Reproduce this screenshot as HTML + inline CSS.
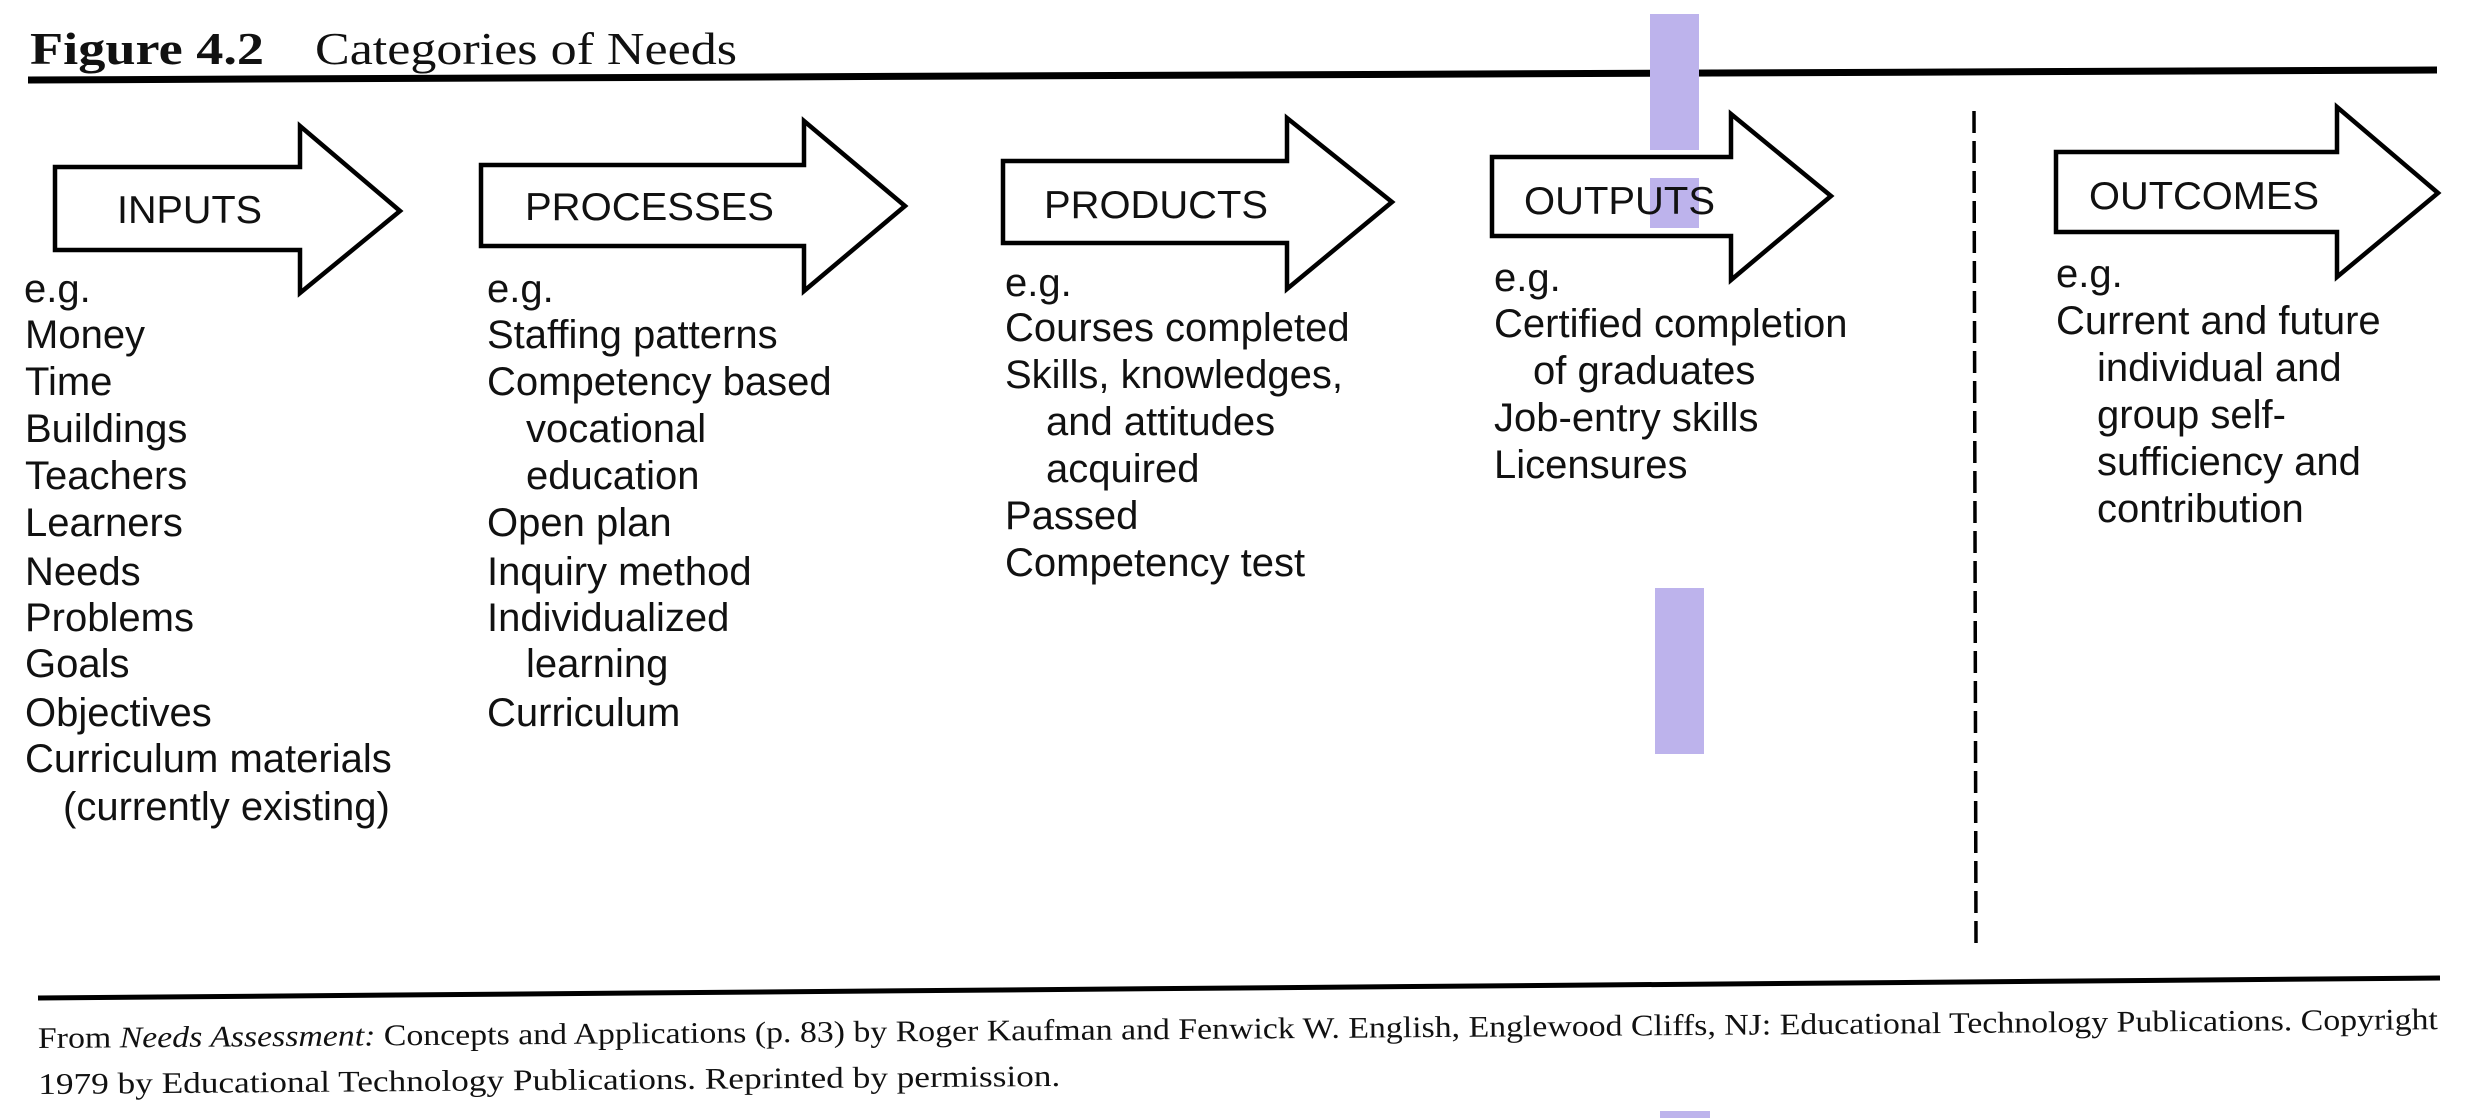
<!DOCTYPE html>
<html><head><meta charset="utf-8"><style>
html,body{margin:0;padding:0;background:#fff;}
svg{display:block;}
.s{font-family:"Liberation Sans",Arial,sans-serif;font-size:40px;fill:#111;}
.l{font-family:"Liberation Sans",Arial,sans-serif;font-size:39px;fill:#111;}
.f{font-family:"Liberation Serif","Times New Roman",serif;fill:#111;}
</style></head><body>
<svg width="2472" height="1118" viewBox="0 0 2472 1118" xmlns="http://www.w3.org/2000/svg">
<rect width="2472" height="1118" fill="#fff"/>
<text class="f" x="30" y="64" font-size="46" font-weight="bold" textLength="234" lengthAdjust="spacingAndGlyphs">Figure 4.2</text>
<text class="f" x="315" y="64" font-size="46" textLength="422" lengthAdjust="spacingAndGlyphs">Categories of Needs</text>
<line x1="28" y1="80" x2="2437" y2="70" stroke="#000" stroke-width="7"/>

<rect x="1650" y="14" width="49" height="136" fill="#bdb3ec"/>
<rect x="1650" y="178" width="49" height="50" fill="#bdb3ec"/>
<rect x="1655" y="588" width="49" height="166" fill="#bdb3ec"/>
<rect x="1660" y="1111" width="50" height="7" fill="#bdb3ec"/>

<g fill="none" stroke="#000" stroke-width="4.5" stroke-linejoin="miter">
<polygon points="55,167 300,167 300,126 400,211 300,293 300,250 55,250"/>
<polygon points="481,165 804,165 804,121 905,206 804,291 804,246 481,246"/>
<polygon points="1003,161 1287,161 1287,118 1392,202 1287,289 1287,243 1003,243"/>
<polygon points="1492,157 1731,157 1731,114 1831,196 1731,280 1731,236 1492,236"/>
<polygon points="2056,152 2337,152 2337,107 2438,193 2337,277 2337,232 2056,232"/>
</g>
<text class="l" x="117" y="223" textLength="145" lengthAdjust="spacingAndGlyphs">INPUTS</text>
<text class="l" x="525" y="220" textLength="249" lengthAdjust="spacingAndGlyphs">PROCESSES</text>
<text class="l" x="1044" y="218" textLength="224" lengthAdjust="spacingAndGlyphs">PRODUCTS</text>
<text class="l" x="1524" y="214" textLength="191" lengthAdjust="spacingAndGlyphs">OUTPUTS</text>
<text class="l" x="2089" y="209" textLength="230" lengthAdjust="spacingAndGlyphs">OUTCOMES</text>

<g class="s">
<text x="24" y="302">e.g.</text>
<text x="25" y="348">Money</text>
<text x="25" y="395">Time</text>
<text x="25" y="442">Buildings</text>
<text x="25" y="489">Teachers</text>
<text x="25" y="536">Learners</text>
<text x="25" y="585">Needs</text>
<text x="25" y="631">Problems</text>
<text x="25" y="677">Goals</text>
<text x="25" y="726">Objectives</text>
<text x="25" y="772">Curriculum materials</text>
<text x="63" y="820">(currently existing)</text>

<text x="487" y="302">e.g.</text>
<text x="487" y="348">Staffing patterns</text>
<text x="487" y="395">Competency based</text>
<text x="526" y="442">vocational</text>
<text x="526" y="489">education</text>
<text x="487" y="536">Open plan</text>
<text x="487" y="585">Inquiry method</text>
<text x="487" y="631">Individualized</text>
<text x="526" y="677">learning</text>
<text x="487" y="726">Curriculum</text>

<text x="1005" y="296">e.g.</text>
<text x="1005" y="341">Courses completed</text>
<text x="1005" y="388">Skills, knowledges,</text>
<text x="1046" y="435">and attitudes</text>
<text x="1046" y="482">acquired</text>
<text x="1005" y="529">Passed</text>
<text x="1005" y="576">Competency test</text>

<text x="1494" y="291">e.g.</text>
<text x="1494" y="337">Certified completion</text>
<text x="1533" y="384">of graduates</text>
<text x="1494" y="431">Job-entry skills</text>
<text x="1494" y="478">Licensures</text>

<text x="2056" y="287">e.g.</text>
<text x="2056" y="334">Current and future</text>
<text x="2097" y="381">individual and</text>
<text x="2097" y="428">group self-</text>
<text x="2097" y="475">sufficiency and</text>
<text x="2097" y="522">contribution</text>
</g>

<line x1="1974" y1="111" x2="1976" y2="944" stroke="#000" stroke-width="3.5" stroke-dasharray="22,8"/>

<line x1="38" y1="998" x2="2440" y2="978" stroke="#000" stroke-width="5"/>
<g transform="rotate(-0.45 38 1048)">
<text class="f" x="38" y="1048" font-size="30" textLength="2400" lengthAdjust="spacingAndGlyphs">From <tspan font-style="italic">Needs Assessment:</tspan> Concepts and Applications (p. 83) by Roger Kaufman and Fenwick W. English, Englewood Cliffs, NJ: Educational Technology Publications. Copyright</text>
<text class="f" x="38" y="1094" font-size="30" textLength="1022" lengthAdjust="spacingAndGlyphs">1979 by Educational Technology Publications. Reprinted by permission.</text>
</g>
</svg>
</body></html>
